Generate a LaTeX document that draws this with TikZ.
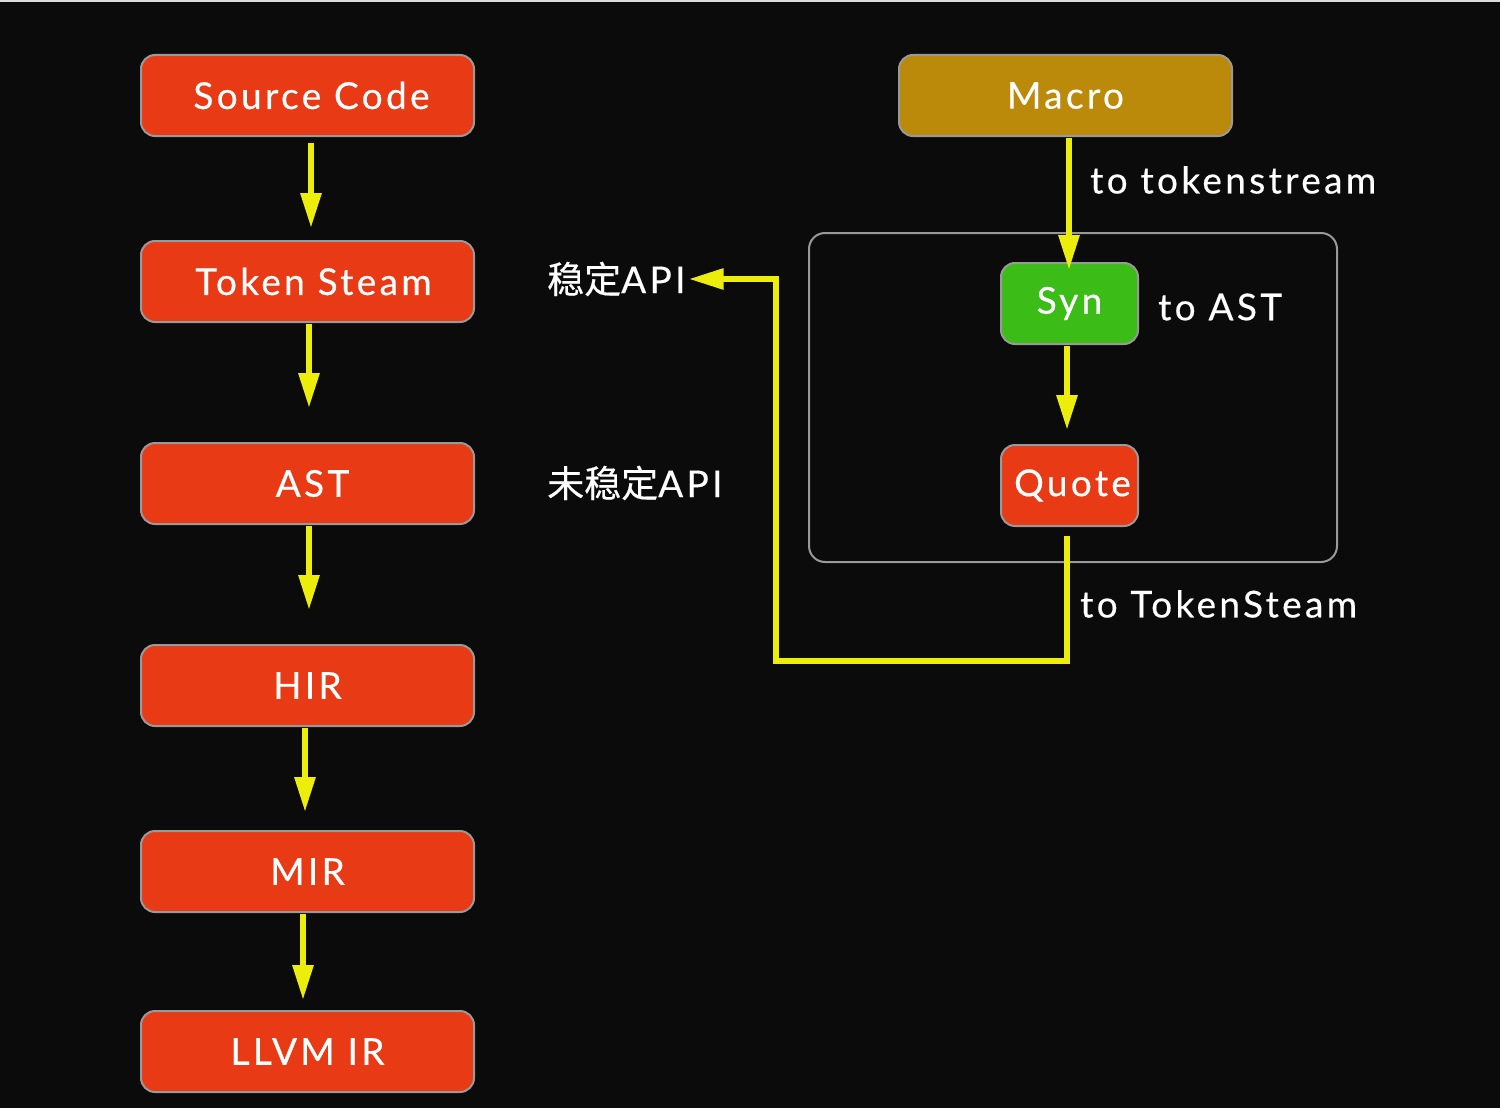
\documentclass[tikz,border=0pt]{standalone}
\usepackage{fontspec}
\setmainfont[LetterSpace=9,FakeBold=0.4]{Lato}
\newfontfamily\cjk[FakeBold=0.4]{Noto Sans CJK SC}
\usetikzlibrary{arrows.meta}
\definecolor{bg}{HTML}{0B0B0B}
\definecolor{redbox}{HTML}{E93A16}
\definecolor{goldbox}{HTML}{BC8A0A}
\definecolor{greenbox}{HTML}{3BBC17}
\definecolor{edgegray}{HTML}{999999}
\definecolor{arrowyellow}{HTML}{EDED0C}
\definecolor{topline}{HTML}{DDDDDD}
\tikzset{
  box/.style={draw=edgegray, line width=2pt, rounded corners=14pt, minimum width=333pt,
    minimum height=81pt, inner sep=0pt, text=white, font=\fontsize{37}{44}\selectfont},
  smallbox/.style={box, minimum width=137pt},
  frame/.style={draw=edgegray, line width=2pt, rounded corners=16pt, inner sep=0pt},
  lbl/.style={text=white, inner sep=0pt, anchor=west, font=\fontsize{37}{44}\selectfont},
  arr/.style={draw=arrowyellow, line width=6pt, line join=miter,
    -{Triangle[width=20pt,length=35pt]}},
}
\begin{document}
\begin{tikzpicture}[x=1pt,y=-1pt]
\fill[bg] (0,0) rectangle (1500,1108);
\fill[topline] (0,0) rectangle (1500,2);
\useasboundingbox (0,0) rectangle (1500,1108);

% left pipeline
\node[box, fill=redbox] (src) at (307.5,95.5) {\hspace{8pt}Source Code};
\node[box, fill=redbox] (tok) at (307.5,281.5) {\hspace{12pt}Token Steam};
\node[box, fill=redbox] (ast) at (307.5,483.5) {\hspace{10pt}AST};
\node[box, fill=redbox] (hir) at (307.5,685.5) {HIR};
\node[box, fill=redbox] (mir) at (307.5,871.5) {MIR};
\node[box, fill=redbox] (llvm) at (307.5,1051.5) {LLVM IR};

\draw[arr, shorten <=6pt, shorten >=12pt] ([xshift=3.5pt]src.south) -- ([xshift=3.5pt]tok.north);
\draw[arr, shorten <=1pt, shorten >=34pt] ([xshift=1.5pt]tok.south) -- ([xshift=1.5pt]ast.north);
\draw[arr, shorten <=1pt, shorten >=34pt] ([xshift=1.5pt]ast.south) -- ([xshift=1.5pt]hir.north);
\draw[arr, shorten <=1pt, shorten >=18pt] ([xshift=-2.5pt]hir.south) -- ([xshift=-2.5pt]mir.north);
\draw[arr, shorten <=1pt, shorten >=10pt] ([xshift=-4.5pt]mir.south) -- ([xshift=-4.5pt]llvm.north);

% right side
\node[box, fill=goldbox] (macro) at (1065.5,95.5) {Macro};
\node[frame, minimum width=528pt, minimum height=329pt] (frm) at (1073,397.5) {};
\node[smallbox, fill=greenbox] (syn) at (1069.5,303.5) {Syn};
\node[smallbox, fill=redbox] (quote) at (1069.5,485.5) {\hspace{6pt}Quote};

\node[lbl] (lts) at (1090,180) {to tokenstream};
\node[lbl] (last) at (1158,307) {to AST};
\node[lbl] (lts2) at (1080,604) {to TokenSteam};

\node[lbl] (stable) at (547,279) {{\cjk 稳定}API};
\node[lbl] (unstable) at (547,483) {{\cjk 未稳定}API};

\draw[arr, shorten <=1pt, shorten >=-8pt] ([xshift=3.5pt]macro.south) -- ([xshift=-0.5pt]syn.north);
\draw[arr, shorten <=1pt, shorten >=14pt] ([xshift=-2.5pt]syn.south) -- ([xshift=-2.5pt]quote.north);

\coordinate (bend) at (776,661);
\draw[arr, shorten >=3pt] ([xshift=-2.5pt,yshift=-9pt]quote.south) |- (bend) |- (stable.east);
\end{tikzpicture}
\end{document}
